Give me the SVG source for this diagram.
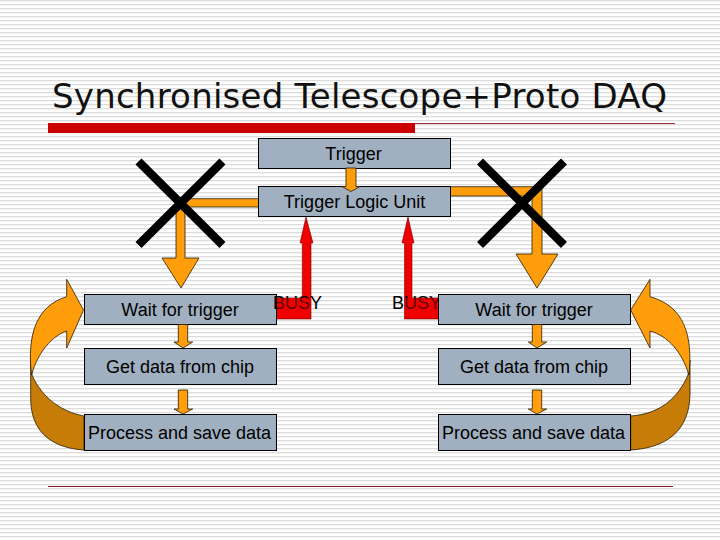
<svg xmlns="http://www.w3.org/2000/svg" width="720" height="540" viewBox="0 0 720 540">
<style>
.box{fill:#a0b0c0;stroke:#000;stroke-width:1}
.lbl{font-family:"Liberation Sans",Arial,sans-serif;font-size:18px;fill:#000;text-anchor:middle}
.busy{font-family:"Liberation Sans",Arial,sans-serif;font-size:18px;fill:#000}
.org{fill:#ff9e0a;stroke:#2a1c00;stroke-width:.8;stroke-linejoin:miter}
.dark{fill:#c67c06;stroke:#2a1c00;stroke-width:.8}
.red{fill:#f00000;stroke:#700000;stroke-width:.6}
.tint{fill:#f00000;opacity:.4}
.x{stroke:#000;stroke-width:8.500;fill:none}
</style>
<defs>
<pattern id="st" width="8" height="4" patternUnits="userSpaceOnUse"><rect width="8" height="4" fill="#fff"/><rect y="0" width="8" height="1.3" fill="#dcdcdc"/></pattern>
</defs>
<rect width="720" height="540" fill="url(#st)"/>
<text x="52" y="108" font-family="'DejaVu Sans',sans-serif" font-size="34" textLength="615" lengthAdjust="spacing" fill="#111">Synchronised Telescope+Proto DAQ</text>
<rect x="48" y="123" width="367" height="10" fill="#cc0000"/>
<line x1="415" y1="123.500" x2="675" y2="123.500" stroke="#a03030" stroke-width="1"/>
<line x1="48" y1="486.500" x2="673" y2="486.500" stroke="#802020" stroke-width="1"/>
<g id="connectors">
<path class="org" d="M258.500 198.700H180V207H258.500Z" stroke="none"/>
<path class="org" d="M176 204V258H162L181 288L199 258H185V204Z"/>
<path class="org" d="M450.500 186.700H542V254H558L537 288L516 254H532V196H450.500Z"/>
<path class="red" d="M306 217L313 243H311V319H276V298H302.300V243H300Z"/>
<path class="red" d="M408 217L414 243H412V298H439V319H404.500V243H402Z"/>
<path class="dark" d="M84 450C52 448 30 432 30.700 397V360L32 375C42 398 62 412 84 416Z"/>
<path class="org" d="M31.500 375C27 335 36 306 66.700 296.700V279.300L83.500 310L66.700 348V331C52 336 38 352 31.500 375Z"/>
<path class="dark" d="M630.700 450C665 448 690 432 690 393V360L688 375C678 398 660 414 630.700 416Z"/>
<path class="org" d="M689 375C693 335 684 306 650 296.700V279.300L630.700 310L650 348V331C668 336 682 352 689 375Z"/>
<path class="x" d="M138.500 161.500L222.500 245M222.500 161.500L138.500 245M480 161.500L564 245M564 161.500L480 245"/>
</g>
<g id="trigger"><rect class="box" x="258.500" y="138.500" width="192" height="30"/><text class="lbl" x="353.500" y="160">Trigger</text></g>
<g id="logic"><rect class="box" x="258.500" y="186.500" width="192" height="30"/><text class="lbl" x="354.500" y="208">Trigger Logic Unit</text></g>
<g id="wait-l"><rect class="box" x="84.500" y="294.500" width="192" height="30"/><text class="lbl" x="180" y="316">Wait for trigger</text></g>
<g id="get-l"><rect class="box" x="84.500" y="348.500" width="192" height="36"/><text class="lbl" x="180" y="373">Get data from chip</text></g>
<g id="proc-l"><rect class="box" x="84.500" y="414.500" width="192" height="36"/><text class="lbl" x="179.500" y="439">Process and save data</text></g>
<text class="busy" x="392" y="309">BUSY</text>
<rect class="tint" x="404.500" y="298" width="34" height="12"/>
<g id="wait-r"><rect class="box" x="438.500" y="294.500" width="192" height="30"/><text class="lbl" x="534" y="316">Wait for trigger</text></g>
<g id="get-r"><rect class="box" x="438.500" y="348.500" width="192" height="36"/><text class="lbl" x="534" y="373">Get data from chip</text></g>
<g id="proc-r"><rect class="box" x="438.500" y="414.500" width="192" height="36"/><text class="lbl" x="533.500" y="439">Process and save data</text></g>
<text class="busy" x="273" y="309">BUSY</text>
<rect class="tint" x="277" y="298" width="34" height="12"/>
<g id="small-arrows">
<path class="org" d="M346 168V186.500H342L351 191.500L360 186.500H356V168Z"/>
<path class="org" d="M178.300 324.500V342H174L183 348L192.700 342H187.700V324.500Z"/>
<path class="org" d="M178.300 390V409H174L183 414L192.700 409H187.700V390Z"/>
<path class="org" d="M532.300 324.500V342H528.300L537 348L546.700 342H541.700V324.500Z"/>
<path class="org" d="M532.300 390V409H528.300L537 414L546.700 409H541.700V390Z"/>
</g>
</svg>
